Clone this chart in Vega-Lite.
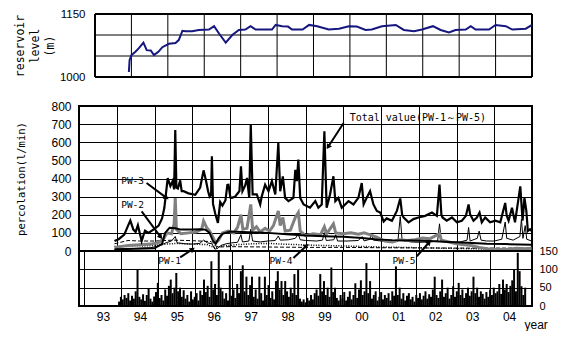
{
  "$schema": "https://vega.github.io/schema/vega-lite/v6.json",
  "padding": {"left": 14, "top": 8, "right": 0, "bottom": 0},
  "background": "white",
  "config": {
    "view": {"stroke": "black", "strokeWidth": 2},
    "axis": {"labelFont": "Liberation Sans", "labelFontSize": 11.5, "labelColor": "black", "labelOverlap": false, "titleFont": "DejaVu Sans Mono", "titleFontWeight": "normal", "titleColor": "black", "grid": true, "gridColor": "black", "gridOpacity": 1, "gridWidth": 1, "ticks": false, "domain": false}
  },
  "datasets": {
    "yrs": [{"t":1994},{"t":1995},{"t":1996},{"t":1997},{"t":1998},{"t":1999},{"t":2000},{"t":2001},{"t":2002},{"t":2003},{"t":2004}],
    "edgesV": [{"t":1993},{"t":2005}],
    "lvls": [{"lvl":1050,"t":1993,"t2":2005},{"lvl":1100,"t":1993,"t2":2005}],
    "edgesH": [{"lvl":1000,"t":1993,"t2":2005},{"lvl":1150,"t":1993,"t2":2005}],
    "res": [
      {"t":1993.93,"lvl":1012},{"t":1993.95,"lvl":1040},{"t":1994.00,"lvl":1052},{"t":1994.11,"lvl":1060},{"t":1994.20,"lvl":1068},{"t":1994.33,"lvl":1082},{"t":1994.42,"lvl":1064},{"t":1994.53,"lvl":1063},{"t":1994.62,"lvl":1052},{"t":1994.74,"lvl":1060},{"t":1994.85,"lvl":1071},{"t":1995.03,"lvl":1079},{"t":1995.21,"lvl":1081},{"t":1995.30,"lvl":1088},{"t":1995.40,"lvl":1110},{"t":1995.49,"lvl":1109},{"t":1995.67,"lvl":1109},{"t":1995.85,"lvl":1112},{"t":1996.13,"lvl":1113},{"t":1996.27,"lvl":1121},{"t":1996.41,"lvl":1103},{"t":1996.59,"lvl":1082},{"t":1996.77,"lvl":1100},{"t":1996.95,"lvl":1112},{"t":1997.13,"lvl":1113},{"t":1997.27,"lvl":1121},{"t":1997.41,"lvl":1113},{"t":1997.68,"lvl":1113},{"t":1997.86,"lvl":1113},{"t":1997.96,"lvl":1124},{"t":1998.14,"lvl":1121},{"t":1998.30,"lvl":1120},{"t":1998.41,"lvl":1113},{"t":1998.70,"lvl":1113},{"t":1998.88,"lvl":1124},{"t":1999.10,"lvl":1121},{"t":1999.42,"lvl":1113},{"t":1999.70,"lvl":1115},{"t":1999.97,"lvl":1121},{"t":2000.19,"lvl":1120},{"t":2000.43,"lvl":1112},{"t":2000.60,"lvl":1113},{"t":2000.88,"lvl":1121},{"t":2001.26,"lvl":1124},{"t":2001.48,"lvl":1112},{"t":2001.76,"lvl":1109},{"t":2001.98,"lvl":1113},{"t":2002.28,"lvl":1121},{"t":2002.49,"lvl":1112},{"t":2002.72,"lvl":1106},{"t":2002.90,"lvl":1112},{"t":2003.18,"lvl":1113},{"t":2003.32,"lvl":1121},{"t":2003.45,"lvl":1113},{"t":2003.82,"lvl":1113},{"t":2004.00,"lvl":1124},{"t":2004.28,"lvl":1121},{"t":2004.46,"lvl":1113},{"t":2004.83,"lvl":1115},{"t":2005.00,"lvl":1124}
    ],
    "rain": [
      {"t":1993.95,"p":12},{"t":1994.00,"p":25},{"t":1994.05,"p":18},{"t":1994.10,"p":30},{"t":1994.15,"p":22},{"t":1994.20,"p":35},{"t":1994.25,"p":15},{"t":1994.30,"p":28},{"t":1994.35,"p":20},{"t":1994.40,"p":40},{"t":1994.45,"p":99},{"t":1994.50,"p":25},{"t":1994.55,"p":18},{"t":1994.60,"p":32},{"t":1994.65,"p":14},{"t":1994.70,"p":30},{"t":1994.75,"p":49},{"t":1994.80,"p":20},{"t":1994.85,"p":12},{"t":1994.90,"p":26},{"t":1994.95,"p":38},
      {"t":1995.00,"p":63},{"t":1995.05,"p":22},{"t":1995.10,"p":30},{"t":1995.15,"p":15},{"t":1995.20,"p":45},{"t":1995.25,"p":28},{"t":1995.30,"p":55},{"t":1995.35,"p":72},{"t":1995.40,"p":35},{"t":1995.45,"p":50},{"t":1995.50,"p":90},{"t":1995.55,"p":40},{"t":1995.60,"p":50},{"t":1995.65,"p":25},{"t":1995.70,"p":43},{"t":1995.75,"p":20},{"t":1995.80,"p":30},{"t":1995.85,"p":12},{"t":1995.90,"p":40},{"t":1995.95,"p":18},
      {"t":1996.00,"p":25},{"t":1996.05,"p":35},{"t":1996.10,"p":15},{"t":1996.15,"p":42},{"t":1996.20,"p":30},{"t":1996.25,"p":72},{"t":1996.30,"p":38},{"t":1996.35,"p":55},{"t":1996.40,"p":25},{"t":1996.45,"p":122},{"t":1996.50,"p":45},{"t":1996.55,"p":60},{"t":1996.60,"p":30},{"t":1996.65,"p":150},{"t":1996.70,"p":50},{"t":1996.75,"p":40},{"t":1996.80,"p":20},{"t":1996.85,"p":35},{"t":1996.90,"p":15},{"t":1996.95,"p":111},
      {"t":1997.00,"p":28},{"t":1997.05,"p":45},{"t":1997.10,"p":22},{"t":1997.15,"p":60},{"t":1997.20,"p":35},{"t":1997.25,"p":95},{"t":1997.30,"p":111},{"t":1997.35,"p":40},{"t":1997.40,"p":80},{"t":1997.45,"p":30},{"t":1997.50,"p":57},{"t":1997.55,"p":80},{"t":1997.60,"p":25},{"t":1997.65,"p":45},{"t":1997.70,"p":20},{"t":1997.75,"p":80},{"t":1997.80,"p":35},{"t":1997.85,"p":15},{"t":1997.90,"p":80},{"t":1997.95,"p":30},
      {"t":1998.00,"p":57},{"t":1998.05,"p":22},{"t":1998.10,"p":40},{"t":1998.15,"p":18},{"t":1998.20,"p":68},{"t":1998.25,"p":95},{"t":1998.30,"p":45},{"t":1998.35,"p":68},{"t":1998.40,"p":30},{"t":1998.45,"p":68},{"t":1998.50,"p":40},{"t":1998.55,"p":25},{"t":1998.60,"p":50},{"t":1998.65,"p":35},{"t":1998.70,"p":87},{"t":1998.75,"p":30},{"t":1998.80,"p":98},{"t":1998.85,"p":20},{"t":1998.90,"p":12},{"t":1998.95,"p":18},
      {"t":1999.00,"p":10},{"t":1999.05,"p":22},{"t":1999.10,"p":15},{"t":1999.15,"p":30},{"t":1999.20,"p":18},{"t":1999.25,"p":35},{"t":1999.30,"p":45},{"t":1999.35,"p":28},{"t":1999.40,"p":87},{"t":1999.45,"p":40},{"t":1999.50,"p":68},{"t":1999.55,"p":30},{"t":1999.60,"p":50},{"t":1999.65,"p":25},{"t":1999.70,"p":105},{"t":1999.75,"p":38},{"t":1999.80,"p":50},{"t":1999.85,"p":22},{"t":1999.90,"p":15},{"t":1999.95,"p":30},
      {"t":2000.00,"p":20},{"t":2000.05,"p":38},{"t":2000.10,"p":15},{"t":2000.15,"p":25},{"t":2000.20,"p":40},{"t":2000.25,"p":18},{"t":2000.30,"p":30},{"t":2000.35,"p":62},{"t":2000.40,"p":22},{"t":2000.45,"p":45},{"t":2000.50,"p":70},{"t":2000.55,"p":30},{"t":2000.60,"p":40},{"t":2000.65,"p":117},{"t":2000.70,"p":35},{"t":2000.75,"p":68},{"t":2000.80,"p":20},{"t":2000.85,"p":30},{"t":2000.90,"p":40},{"t":2000.95,"p":15},
      {"t":2001.00,"p":25},{"t":2001.05,"p":38},{"t":2001.10,"p":18},{"t":2001.15,"p":30},{"t":2001.20,"p":22},{"t":2001.25,"p":35},{"t":2001.30,"p":15},{"t":2001.35,"p":40},{"t":2001.40,"p":28},{"t":2001.45,"p":108},{"t":2001.50,"p":30},{"t":2001.55,"p":50},{"t":2001.60,"p":20},{"t":2001.65,"p":35},{"t":2001.70,"p":15},{"t":2001.75,"p":28},{"t":2001.80,"p":35},{"t":2001.85,"p":18},{"t":2001.90,"p":25},{"t":2001.95,"p":12},
      {"t":2002.00,"p":30},{"t":2002.05,"p":22},{"t":2002.10,"p":35},{"t":2002.15,"p":18},{"t":2002.20,"p":28},{"t":2002.25,"p":40},{"t":2002.30,"p":20},{"t":2002.35,"p":32},{"t":2002.40,"p":25},{"t":2002.45,"p":45},{"t":2002.50,"p":80},{"t":2002.55,"p":30},{"t":2002.60,"p":22},{"t":2002.65,"p":40},{"t":2002.70,"p":72},{"t":2002.75,"p":25},{"t":2002.80,"p":35},{"t":2002.85,"p":50},{"t":2002.90,"p":20},{"t":2002.95,"p":30},
      {"t":2003.00,"p":54},{"t":2003.05,"p":25},{"t":2003.10,"p":40},{"t":2003.15,"p":63},{"t":2003.20,"p":30},{"t":2003.25,"p":45},{"t":2003.30,"p":22},{"t":2003.35,"p":35},{"t":2003.40,"p":50},{"t":2003.45,"p":28},{"t":2003.50,"p":40},{"t":2003.55,"p":80},{"t":2003.60,"p":35},{"t":2003.65,"p":50},{"t":2003.70,"p":25},{"t":2003.75,"p":40},{"t":2003.80,"p":33},{"t":2003.85,"p":20},{"t":2003.90,"p":38},{"t":2003.95,"p":25},
      {"t":2004.00,"p":45},{"t":2004.05,"p":30},{"t":2004.10,"p":50},{"t":2004.15,"p":35},{"t":2004.20,"p":40},{"t":2004.25,"p":60},{"t":2004.30,"p":33},{"t":2004.35,"p":72},{"t":2004.40,"p":45},{"t":2004.45,"p":60},{"t":2004.50,"p":38},{"t":2004.55,"p":55},{"t":2004.60,"p":70},{"t":2004.65,"p":99},{"t":2004.70,"p":40},{"t":2004.75,"p":145},{"t":2004.80,"p":95},{"t":2004.85,"p":54},{"t":2004.90,"p":30},{"t":2004.95,"p":50}
    ],
    "total": [
      {"t":1993.94,"v":55},{"t":1994.05,"v":65},{"t":1994.20,"v":90},{"t":1994.30,"v":140},{"t":1994.36,"v":168},{"t":1994.44,"v":118},{"t":1994.50,"v":105},{"t":1994.56,"v":142},{"t":1994.62,"v":90},{"t":1994.66,"v":55},{"t":1994.72,"v":95},{"t":1994.75,"v":112},{"t":1994.84,"v":100},{"t":1994.95,"v":115},{"t":1995.05,"v":130},{"t":1995.11,"v":140},{"t":1995.20,"v":180},{"t":1995.26,"v":237},{"t":1995.35,"v":402},{"t":1995.42,"v":358},{"t":1995.48,"v":385},{"t":1995.52,"v":340},{"t":1995.55,"v":668},{"t":1995.58,"v":350},{"t":1995.62,"v":345},{"t":1995.68,"v":390},{"t":1995.72,"v":330},{"t":1995.77,"v":330},{"t":1995.90,"v":318},{"t":1996.08,"v":310},{"t":1996.21,"v":350},{"t":1996.30,"v":445},{"t":1996.36,"v":392},{"t":1996.42,"v":330},{"t":1996.46,"v":300},{"t":1996.50,"v":310},{"t":1996.52,"v":523},{"t":1996.55,"v":260},{"t":1996.61,"v":205},{"t":1996.68,"v":155},{"t":1996.74,"v":270},{"t":1996.80,"v":250},{"t":1996.88,"v":280},{"t":1996.93,"v":365},{"t":1996.96,"v":366},{"t":1997.01,"v":295},{"t":1997.05,"v":293},{"t":1997.14,"v":300},{"t":1997.18,"v":312},{"t":1997.25,"v":330},{"t":1997.29,"v":467},{"t":1997.33,"v":330},{"t":1997.40,"v":360},{"t":1997.45,"v":403},{"t":1997.51,"v":293},{"t":1997.55,"v":697},{"t":1997.60,"v":312},{"t":1997.71,"v":312},{"t":1997.80,"v":257},{"t":1997.84,"v":300},{"t":1997.93,"v":366},{"t":1998.02,"v":330},{"t":1998.11,"v":385},{"t":1998.20,"v":312},{"t":1998.28,"v":596},{"t":1998.33,"v":330},{"t":1998.40,"v":412},{"t":1998.46,"v":293},{"t":1998.55,"v":275},{"t":1998.68,"v":293},{"t":1998.73,"v":448},{"t":1998.77,"v":385},{"t":1998.81,"v":504},{"t":1998.86,"v":293},{"t":1998.95,"v":257},{"t":1999.12,"v":239},{"t":1999.26,"v":275},{"t":1999.34,"v":239},{"t":1999.43,"v":257},{"t":1999.50,"v":660},{"t":1999.56,"v":239},{"t":1999.65,"v":312},{"t":1999.74,"v":412},{"t":1999.79,"v":275},{"t":1999.87,"v":293},{"t":1999.96,"v":239},{"t":2000.14,"v":275},{"t":2000.27,"v":257},{"t":2000.40,"v":293},{"t":2000.49,"v":375},{"t":2000.54,"v":257},{"t":2000.62,"v":293},{"t":2000.71,"v":330},{"t":2000.80,"v":257},{"t":2000.89,"v":221},{"t":2000.98,"v":212},{"t":2001.07,"v":163},{"t":2001.15,"v":180},{"t":2001.29,"v":167},{"t":2001.42,"v":221},{"t":2001.51,"v":290},{"t":2001.56,"v":200},{"t":2001.60,"v":185},{"t":2001.73,"v":158},{"t":2001.86,"v":176},{"t":2001.99,"v":185},{"t":2002.17,"v":194},{"t":2002.35,"v":212},{"t":2002.48,"v":194},{"t":2002.55,"v":366},{"t":2002.60,"v":200},{"t":2002.63,"v":185},{"t":2002.74,"v":167},{"t":2002.88,"v":185},{"t":2003.01,"v":158},{"t":2003.14,"v":167},{"t":2003.25,"v":194},{"t":2003.32,"v":257},{"t":2003.36,"v":203},{"t":2003.45,"v":167},{"t":2003.54,"v":185},{"t":2003.61,"v":212},{"t":2003.67,"v":158},{"t":2003.76,"v":185},{"t":2003.89,"v":158},{"t":2004.03,"v":167},{"t":2004.16,"v":158},{"t":2004.29,"v":265},{"t":2004.33,"v":194},{"t":2004.38,"v":167},{"t":2004.47,"v":239},{"t":2004.55,"v":158},{"t":2004.69,"v":357},{"t":2004.75,"v":167},{"t":2004.80,"v":293},{"t":2004.85,"v":221},{"t":2004.89,"v":110},{"t":2004.95,"v":120},{"t":2004.99,"v":110}
    ],
    "pw3": [
      {"t":1993.94,"v":10},{"t":1994.5,"v":12},{"t":1995.0,"v":15},{"t":1995.2,"v":40},{"t":1995.28,"v":100},{"t":1995.4,"v":128},{"t":1995.55,"v":125},{"t":1995.7,"v":118},{"t":1996.0,"v":118},{"t":1996.2,"v":120},{"t":1996.35,"v":118},{"t":1996.46,"v":100},{"t":1996.55,"v":55},{"t":1996.62,"v":40},{"t":1996.7,"v":70},{"t":1996.8,"v":95},{"t":1997.0,"v":108},{"t":1997.5,"v":104},{"t":1998.0,"v":100},{"t":1998.5,"v":93},{"t":1999.0,"v":86},{"t":1999.5,"v":82},{"t":2000.0,"v":78},{"t":2000.5,"v":72},{"t":2000.9,"v":64},{"t":2001.3,"v":60},{"t":2001.8,"v":58},{"t":2002.3,"v":55},{"t":2002.8,"v":50},{"t":2003.3,"v":45},{"t":2003.8,"v":40},{"t":2004.3,"v":38},{"t":2004.99,"v":35}
    ],
    "pw2": [
      {"t":1993.94,"v":20},{"t":1994.3,"v":30},{"t":1994.6,"v":35},{"t":1994.9,"v":38},{"t":1995.1,"v":45},{"t":1995.25,"v":70},{"t":1995.33,"v":100},{"t":1995.45,"v":95},{"t":1995.52,"v":150},{"t":1995.55,"v":292},{"t":1995.58,"v":120},{"t":1995.7,"v":95},{"t":1995.9,"v":100},{"t":1996.1,"v":105},{"t":1996.25,"v":120},{"t":1996.3,"v":165},{"t":1996.38,"v":130},{"t":1996.46,"v":110},{"t":1996.55,"v":75},{"t":1996.62,"v":45},{"t":1996.7,"v":60},{"t":1996.8,"v":100},{"t":1996.95,"v":110},{"t":1997.1,"v":100},{"t":1997.2,"v":130},{"t":1997.29,"v":200},{"t":1997.34,"v":120},{"t":1997.45,"v":125},{"t":1997.55,"v":257},{"t":1997.6,"v":115},{"t":1997.7,"v":134},{"t":1997.8,"v":105},{"t":1997.93,"v":125},{"t":1998.05,"v":110},{"t":1998.15,"v":140},{"t":1998.28,"v":221},{"t":1998.33,"v":140},{"t":1998.4,"v":185},{"t":1998.46,"v":110},{"t":1998.6,"v":115},{"t":1998.73,"v":185},{"t":1998.81,"v":212},{"t":1998.86,"v":110},{"t":1999.0,"v":85},{"t":1999.2,"v":95},{"t":1999.4,"v":90},{"t":1999.5,"v":134},{"t":1999.56,"v":95},{"t":1999.74,"v":150},{"t":1999.8,"v":100},{"t":2000.0,"v":95},{"t":2000.2,"v":100},{"t":2000.4,"v":92},{"t":2000.55,"v":100},{"t":2000.7,"v":90},{"t":2000.9,"v":75},{"t":2001.1,"v":55},{"t":2001.3,"v":50},{"t":2001.5,"v":62},{"t":2001.7,"v":58},{"t":2001.9,"v":62},{"t":2002.1,"v":72},{"t":2002.3,"v":68},{"t":2002.55,"v":95},{"t":2002.6,"v":60},{"t":2002.8,"v":50},{"t":2003.0,"v":40},{"t":2003.2,"v":35},{"t":2003.4,"v":30},{"t":2003.6,"v":20},{"t":2003.8,"v":12},{"t":2004.0,"v":10},{"t":2004.3,"v":8},{"t":2004.6,"v":15},{"t":2004.8,"v":12},{"t":2004.99,"v":15}
    ],
    "pw1": [
      {"t":1993.94,"v":8},{"t":1994.3,"v":12},{"t":1994.6,"v":15},{"t":1994.9,"v":18},{"t":1995.15,"v":30},{"t":1995.3,"v":45},{"t":1995.45,"v":55},{"t":1995.55,"v":80},{"t":1995.6,"v":45},{"t":1995.8,"v":40},{"t":1996.0,"v":38},{"t":1996.2,"v":42},{"t":1996.3,"v":60},{"t":1996.4,"v":45},{"t":1996.52,"v":40},{"t":1996.6,"v":10},{"t":1996.68,"v":15},{"t":1996.75,"v":30},{"t":1996.9,"v":40},{"t":1997.05,"v":45},{"t":1997.2,"v":48},{"t":1997.29,"v":90},{"t":1997.33,"v":50},{"t":1997.5,"v":55},{"t":1997.55,"v":120},{"t":1997.6,"v":55},{"t":1997.8,"v":50},{"t":1998.0,"v":55},{"t":1998.2,"v":58},{"t":1998.28,"v":83},{"t":1998.33,"v":60},{"t":1998.55,"v":62},{"t":1998.73,"v":70},{"t":1998.81,"v":92},{"t":1998.86,"v":62},{"t":1999.0,"v":58},{"t":1999.3,"v":55},{"t":1999.45,"v":60},{"t":1999.5,"v":101},{"t":1999.55,"v":58},{"t":1999.75,"v":62},{"t":1999.8,"v":90},{"t":1999.85,"v":55},{"t":2000.1,"v":55},{"t":2000.4,"v":58},{"t":2000.5,"v":80},{"t":2000.55,"v":56},{"t":2000.7,"v":64},{"t":2000.75,"v":95},{"t":2000.8,"v":60},{"t":2001.0,"v":55},{"t":2001.2,"v":52},{"t":2001.45,"v":60},{"t":2001.51,"v":190},{"t":2001.56,"v":58},{"t":2001.8,"v":50},{"t":2002.0,"v":48},{"t":2002.3,"v":50},{"t":2002.5,"v":55},{"t":2002.55,"v":150},{"t":2002.6,"v":52},{"t":2002.9,"v":48},{"t":2003.1,"v":50},{"t":2003.28,"v":60},{"t":2003.32,"v":130},{"t":2003.36,"v":55},{"t":2003.55,"v":70},{"t":2003.6,"v":110},{"t":2003.65,"v":60},{"t":2003.8,"v":55},{"t":2004.0,"v":55},{"t":2004.2,"v":65},{"t":2004.29,"v":160},{"t":2004.33,"v":70},{"t":2004.5,"v":60},{"t":2004.68,"v":80},{"t":2004.72,"v":175},{"t":2004.76,"v":70},{"t":2004.82,"v":140},{"t":2004.86,"v":65},{"t":2004.99,"v":55}
    ],
    "pw4": [
      {"t":1993.94,"v":25},{"t":1994.3,"v":30},{"t":1994.7,"v":28},{"t":1995.0,"v":30},{"t":1995.3,"v":38},{"t":1995.6,"v":42},{"t":1996.0,"v":38},{"t":1996.4,"v":35},{"t":1996.6,"v":18},{"t":1996.8,"v":28},{"t":1997.2,"v":35},{"t":1997.6,"v":40},{"t":1998.0,"v":42},{"t":1998.4,"v":38},{"t":1998.8,"v":35},{"t":1999.2,"v":32},{"t":1999.6,"v":30},{"t":2000.0,"v":28},{"t":2000.5,"v":25},{"t":2001.0,"v":22},{"t":2001.5,"v":20},{"t":2002.0,"v":18},{"t":2002.5,"v":16},{"t":2003.0,"v":14},{"t":2003.5,"v":12},{"t":2004.0,"v":10},{"t":2004.5,"v":10},{"t":2004.99,"v":10}
    ],
    "pw5": [
      {"t":1993.94,"v":40},{"t":1994.3,"v":58},{"t":1994.6,"v":55},{"t":1995.0,"v":55},{"t":1995.5,"v":60},{"t":1996.0,"v":57},{"t":1996.5,"v":52},{"t":1996.6,"v":30},{"t":1996.7,"v":22},{"t":1997.0,"v":24},{"t":1998.0,"v":22},{"t":1999.0,"v":20},{"t":2000.0,"v":20},{"t":2001.0,"v":18},{"t":2002.0,"v":17},{"t":2003.0,"v":16},{"t":2004.0,"v":16},{"t":2004.99,"v":16}
    ],
    "ann": [
      {"lab":"PW-3","t":1994.42,"v":386},{"lab":"PW-2","t":1994.42,"v":255},{"lab":"PW-1","t":1995.40,"v":-57},{"lab":"PW-4","t":1998.35,"v":-57},{"lab":"PW-5","t":2001.61,"v":-57}
    ],
    "ann2": [
      {"lab":"Total value(PW-1～PW-5)","t":2000.17,"v":734}
    ],
    "arrows": [
      {"a":"PW-3","t":1994.79,"v":375,"t2":1995.30,"v2":296},
      {"a":"PW-2","t":1994.66,"v":219,"t2":1995.15,"v2":81},
      {"a":"PW-1","t":1995.68,"v":-35,"t2":1995.99,"v2":7},
      {"a":"PW-4","t":1998.68,"v":-39,"t2":1999.01,"v2":26},
      {"a":"PW-5","t":2001.95,"v":-29,"t2":2002.26,"v2":44},
      {"a":"Total","t":2000.01,"v":706,"t2":1999.61,"v2":578}
    ]
  },
  "spacing": 16,
  "vconcat": [
    {
      "width": 453, "height": 63,
      "view": {"stroke": null},
      "encoding": {
        "x": {"field": "t", "type": "quantitative", "scale": {"domain": [1992.5607, 2005], "nice": false, "zero": false}, "axis": null}
      },
      "layer": [
        {"data": {"name": "yrs"}, "mark": {"type": "rule", "color": "black", "strokeWidth": 1}},
        {"data": {"name": "edgesV"}, "mark": {"type": "rule", "color": "black", "strokeWidth": 2}},
        {"data": {"name": "lvls"}, "mark": {"type": "rule", "color": "black", "strokeWidth": 1},
         "encoding": {"x2": {"field": "t2"}, "y": {"field": "lvl", "type": "quantitative"}}},
        {"data": {"name": "edgesH"}, "mark": {"type": "rule", "color": "black", "strokeWidth": 2},
         "encoding": {"x2": {"field": "t2"}, "y": {"field": "lvl", "type": "quantitative"}}},
        {"data": {"name": "res"}, "mark": {"type": "line", "color": "#161680", "strokeWidth": 2},
         "encoding": {"y": {"field": "lvl", "type": "quantitative", "scale": {"domain": [1000, 1150], "nice": false, "zero": false},
              "axis": {"values": [1000,1050,1100,1150], "format": "d", "offset": -16, "title": ["reservoir", "level", "(m)"], "titleFontSize": 11.5, "titleLineHeight": 15, "titlePadding": 4, "labelPadding": 10, "labelOverlap": false, "labelFont": "Liberation Sans", "labelFontSize": 11.5, "grid": false}}}}
      ]
    },
    {
      "vconcat": [
        {
          "width": 453, "height": 145,
          "encoding": {
            "x": {"field": "t", "type": "quantitative", "scale": {"domain": [1993, 2005], "nice": false, "zero": false},
                  "axis": {"values": [1994,1995,1996,1997,1998,1999,2000,2001,2002,2003,2004], "labels": false, "title": null, "grid": true, "gridColor": "black"}},
            "y": {"field": "v", "type": "quantitative", "scale": {"domain": [0, 800], "nice": false, "zero": false},
                  "axis": {"values": [0,100,200,300,400,500,600,700,800], "title": "percolation(l/min)", "titleFontSize": 10.5, "titlePadding": 24, "labelPadding": 8, "labelFontSize": 12, "labelOverlap": false, "grid": true, "gridColor": "black"}}
          },
          "layer": [
            {"data": {"name": "pw5"}, "mark": {"type": "line", "color": "black", "strokeWidth": 1, "strokeDash": [4, 2]}},
            {"data": {"name": "pw4"}, "mark": {"type": "line", "color": "black", "strokeWidth": 1.5, "strokeDash": [1, 1.5]}},
            {"data": {"name": "pw1"}, "mark": {"type": "line", "color": "black", "strokeWidth": 1}},
            {"data": {"name": "pw2"}, "mark": {"type": "line", "color": "#808080", "strokeWidth": 3}},
            {"data": {"name": "pw3"}, "mark": {"type": "line", "color": "black", "strokeWidth": 2}},
            {"data": {"name": "total"}, "mark": {"type": "line", "color": "black", "strokeWidth": 2.2}},
            {"data": {"name": "arrows"}, "mark": {"type": "rule", "color": "black", "strokeWidth": 2},
             "encoding": {"x2": {"field": "t2"}, "y2": {"field": "v2"}}},
            {"data": {"name": "arrows"}, "transform": [{"filter": "datum.a === 'PW-3'"}], "mark": {"type": "point", "shape": "triangle", "angle": 126, "filled": true, "color": "black", "opacity": 1, "size": 35},
             "encoding": {"x": {"field": "t2", "type": "quantitative"}, "y": {"field": "v2", "type": "quantitative"}}},
            {"data": {"name": "arrows"}, "transform": [{"filter": "datum.a === 'PW-2'"}], "mark": {"type": "point", "shape": "triangle", "angle": 144, "filled": true, "color": "black", "opacity": 1, "size": 35},
             "encoding": {"x": {"field": "t2", "type": "quantitative"}, "y": {"field": "v2", "type": "quantitative"}}},
            {"data": {"name": "arrows"}, "transform": [{"filter": "datum.a === 'PW-1'"}], "mark": {"type": "point", "shape": "triangle", "angle": 57, "filled": true, "color": "black", "opacity": 1, "size": 35},
             "encoding": {"x": {"field": "t2", "type": "quantitative"}, "y": {"field": "v2", "type": "quantitative"}}},
            {"data": {"name": "arrows"}, "transform": [{"filter": "datum.a === 'PW-4'"}], "mark": {"type": "point", "shape": "triangle", "angle": 46, "filled": true, "color": "black", "opacity": 1, "size": 35},
             "encoding": {"x": {"field": "t2", "type": "quantitative"}, "y": {"field": "v2", "type": "quantitative"}}},
            {"data": {"name": "arrows"}, "transform": [{"filter": "datum.a === 'PW-5'"}], "mark": {"type": "point", "shape": "triangle", "angle": 41, "filled": true, "color": "black", "opacity": 1, "size": 35},
             "encoding": {"x": {"field": "t2", "type": "quantitative"}, "y": {"field": "v2", "type": "quantitative"}}},
            {"data": {"name": "arrows"}, "transform": [{"filter": "datum.a === 'Total'"}], "mark": {"type": "point", "shape": "triangle", "angle": 213, "filled": true, "color": "black", "opacity": 1, "size": 35},
             "encoding": {"x": {"field": "t2", "type": "quantitative"}, "y": {"field": "v2", "type": "quantitative"}}},
            {"data": {"name": "ann"}, "mark": {"type": "text", "font": "DejaVu Sans Mono", "fontSize": 9.5, "align": "center", "baseline": "middle", "color": "black"},
             "encoding": {"text": {"field": "lab"}}},
            {"data": {"name": "ann2"}, "mark": {"type": "text", "font": "DejaVu Sans Mono", "fontSize": 10, "align": "left", "baseline": "middle", "color": "black"},
             "encoding": {"text": {"field": "lab"}}}
          ]
        },
        {
          "width": 453, "height": 55,
          "data": {"name": "rain"},
          "mark": {"type": "bar", "color": "black", "width": 2},
          "encoding": {
            "x": {"field": "t", "type": "quantitative", "scale": {"domain": [1993, 2005], "nice": false, "zero": false},
                  "axis": {"values": [1993,1994,1995,1996,1997,1998,1999,2000,2001,2002,2003,2004], "labelExpr": "substring(toString(datum.value), 2)", "labelOffset": 19, "labelPadding": 5, "labelFontSize": 12, "grid": true, "gridColor": "black",
                           "title": "year", "titleFont": "Liberation Sans", "titleFontSize": 12, "titleX": 445, "titleY": 22, "titleAlign": "left", "titleBaseline": "alphabetic"}},
            "y": {"field": "p", "type": "quantitative", "scale": {"domain": [0, 150], "nice": false, "zero": false},
                  "axis": {"orient": "right", "values": [0, 50, 100, 150], "title": null, "labelPadding": 7, "labelFontSize": 11, "grid": true, "gridColor": "black"}},
            "y2": {"datum": 0}
          }
        }
      ],
      "spacing": 0,
      "bounds": "flush"
    }
  ]
}
